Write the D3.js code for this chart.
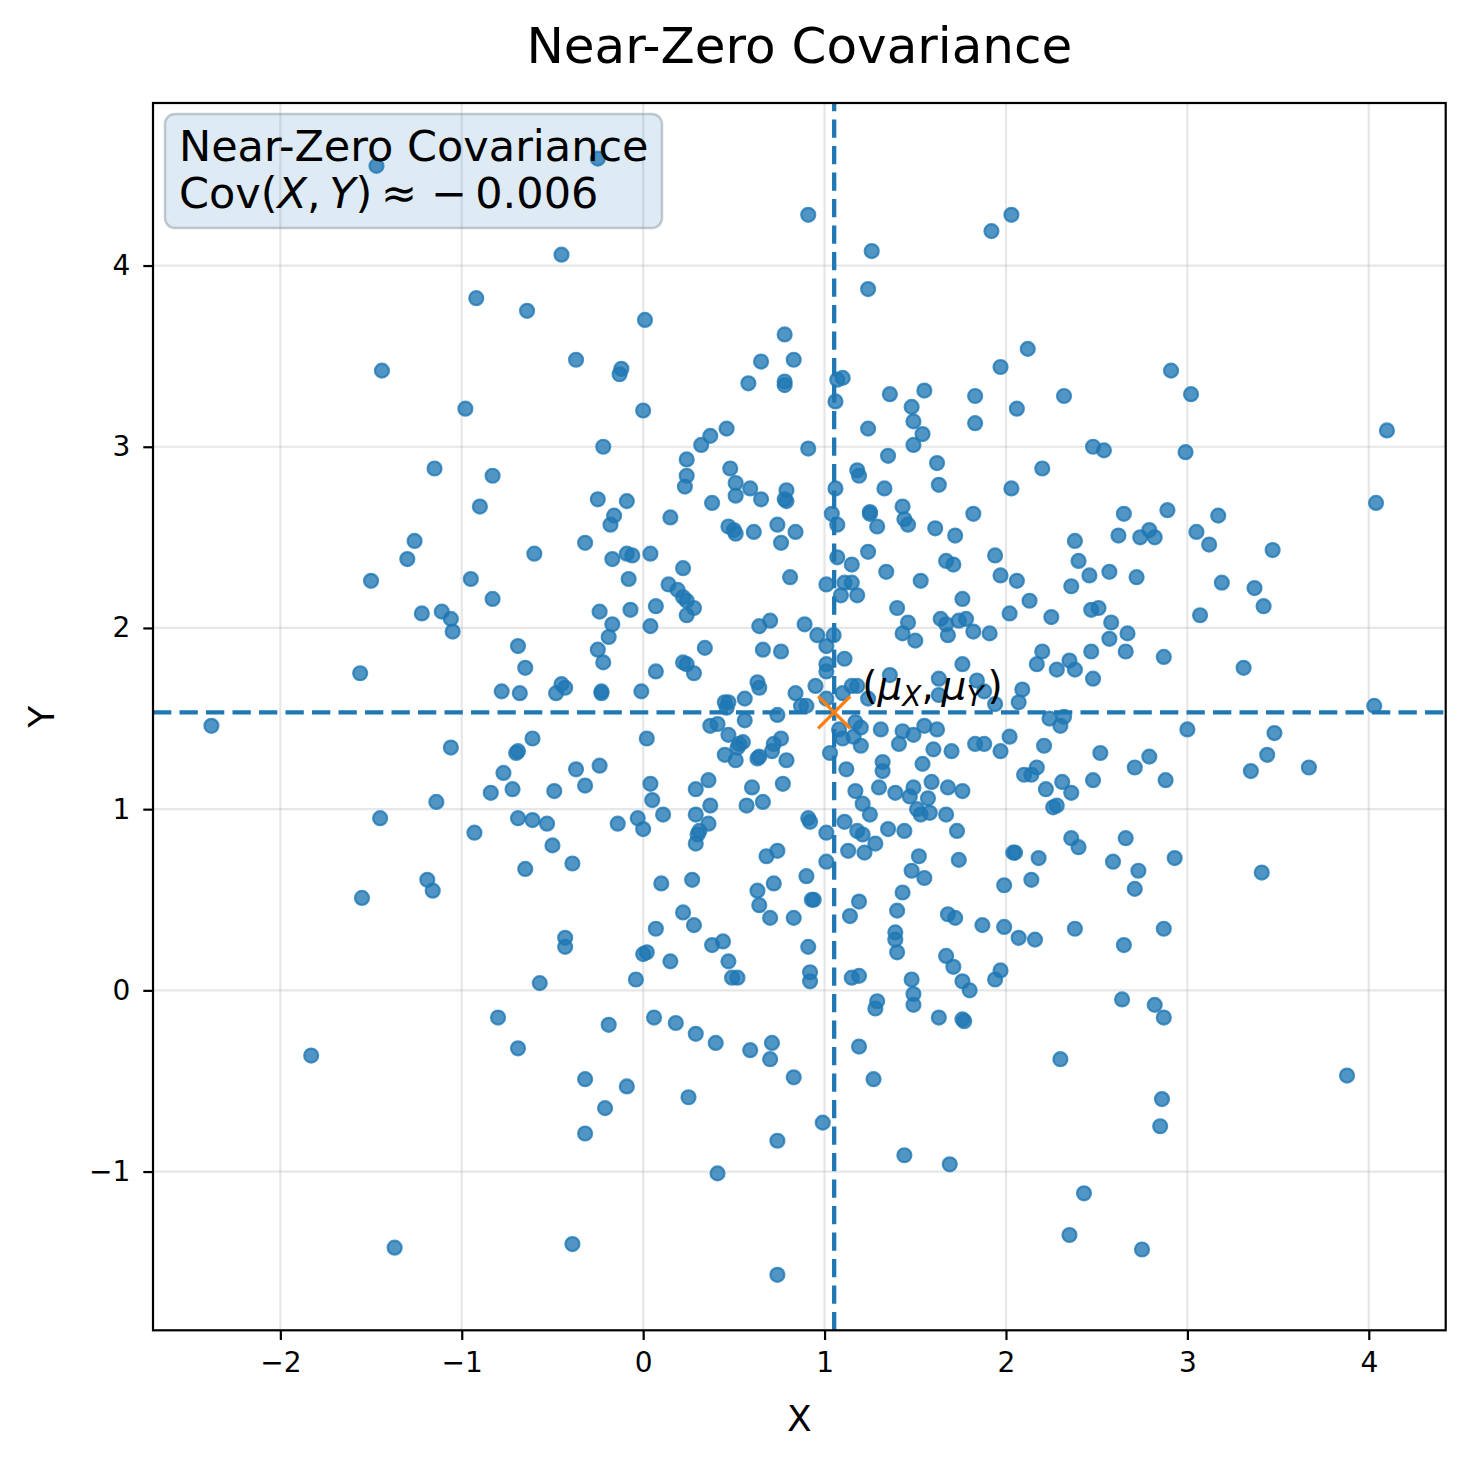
<!DOCTYPE html>
<html>
<head>
<meta charset="utf-8">
<script src="https://cdn.jsdelivr.net/npm/d3@7"></script>
<style>
  body { margin: 0; background: #fff; }
  text { font-family: "DejaVu Sans", sans-serif; }
</style>
</head>
<body>
<div id="chart"></div>
<script>
// sample points (X, Y)
var points = [
  [-1.47,4.55],[-0.45,4.06],[-0.92,3.82],[-0.64,3.75],[-0.37,3.48],[-1.44,3.42],[-0.98,3.21],[-1.15,2.88],[-0.83,2.84],[-0.90,2.67],
  [-0.25,4.59],[0.91,4.28],[2.03,4.28],[1.92,4.19],[1.26,4.08],[1.24,3.87],[0.01,3.70],[0.78,3.62],[0.65,3.47],[0.83,3.48],
  [-0.12,3.43],[-0.13,3.40],[0.58,3.35],[0.78,3.36],[0.78,3.34],[1.07,3.37],[1.10,3.38],[1.06,3.25],[0.00,3.20],[1.36,3.29],
  [1.55,3.31],[1.48,3.22],[1.49,3.14],[1.54,3.07],[1.49,3.01],[1.83,3.28],[1.83,3.13],[1.97,3.44],[2.06,3.21],[2.03,2.77],
  [1.24,3.10],[0.91,2.99],[1.35,2.95],[1.62,2.91],[1.63,2.79],[1.18,2.87],[1.19,2.84],[1.33,2.77],[1.43,2.67],[1.25,2.64],
  [1.25,2.63],[1.82,2.63],[1.06,2.77],[1.04,2.63],[-0.22,3.00],[0.32,3.01],[0.37,3.06],[0.46,3.10],[0.24,2.93],[0.24,2.84],
  [0.23,2.78],[0.48,2.88],[0.51,2.80],[0.51,2.73],[0.59,2.77],[0.65,2.71],[0.79,2.76],[0.78,2.71],[0.79,2.70],[0.38,2.69],
  [-0.25,2.71],[-0.09,2.70],[-0.16,2.62],[0.15,2.61],[2.12,3.54],[2.91,3.42],[3.02,3.29],[2.32,3.28],[4.10,3.09],[2.48,3.00],
  [2.54,2.98],[2.99,2.97],[2.20,2.88],[4.04,2.69],[2.65,2.63],[2.89,2.65],[3.17,2.62],
  [-1.26,2.48],[-1.30,2.38],[-1.50,2.26],[-0.60,2.41],[-0.32,2.47],[-0.95,2.27],[-0.83,2.16],[-1.22,2.08],[-1.11,2.09],[-1.06,2.05],
  [-1.05,1.98],[-0.69,1.90],[-0.65,1.78],[-1.56,1.75],[-0.78,1.65],[-0.68,1.64],[-0.48,1.64],[-0.45,1.69],[-0.43,1.67],[-2.38,1.46],
  [-1.06,1.34],[-0.61,1.39],[-0.70,1.31],[-0.69,1.32],[-0.77,1.20],[-0.37,1.22],[-0.84,1.09],[-0.72,1.11],[-0.49,1.10],[-0.32,1.13],
  [-1.14,1.04],[-1.45,0.95],[-0.69,0.95],[-0.61,0.94],[-0.53,0.92],[-0.93,0.87],[-0.50,0.80],[-0.39,0.70],[-0.65,0.67],[-1.19,0.61],
  [-1.16,0.55],[-1.55,0.51],
  [-0.18,2.57],[0.47,2.56],[0.50,2.54],[0.51,2.52],[0.61,2.53],[0.74,2.57],[0.84,2.53],[0.76,2.47],[1.07,2.57],[1.29,2.56],
  [1.44,2.60],[1.46,2.57],[1.61,2.55],[1.72,2.51],[-0.17,2.38],[-0.09,2.41],[-0.06,2.40],[0.04,2.41],[0.22,2.33],[-0.08,2.27],
  [0.81,2.28],[1.01,2.24],[1.07,2.39],[1.15,2.35],[1.24,2.42],[1.11,2.25],[1.15,2.25],[1.09,2.18],[1.18,2.18],[1.34,2.31],
  [1.53,2.26],[1.67,2.37],[1.71,2.35],[1.94,2.40],[1.97,2.29],[2.06,2.26],[1.76,2.16],[0.14,2.24],[0.19,2.21],[0.22,2.17],
  [0.24,2.15],[0.28,2.11],[0.24,2.07],[0.07,2.12],[-0.07,2.10],[-0.24,2.09],[-0.17,2.02],[-0.19,1.95],[0.04,2.01],[-0.25,1.88],
  [-0.22,1.81],[1.40,2.11],[1.46,2.03],[1.43,1.97],[1.50,1.93],[1.64,2.05],[1.67,2.02],[1.68,1.96],[1.74,2.04],[1.78,2.05],
  [1.82,1.98],[1.91,1.97],[2.02,2.08],[0.64,2.01],[0.70,2.04],[0.89,2.02],[0.96,1.96],[1.05,1.96],[0.34,1.89],[0.66,1.88],
  [0.76,1.87],[1.01,1.90],[1.11,1.83],[1.01,1.80],[1.01,1.76],[0.22,1.81],[0.24,1.80],[0.28,1.75],[0.07,1.76],[1.76,1.80],
  [1.63,1.72],[1.63,1.63],[1.36,1.74],[1.84,1.71],[1.88,1.65],[1.94,1.58],[2.09,1.66],[2.07,1.59],[1.24,1.61],[-0.23,1.65],
  [-0.23,1.64],[-0.01,1.65],[0.63,1.70],[0.64,1.67],[0.84,1.64],[0.95,1.68],[1.01,1.61],[1.10,1.64],[1.15,1.68],[1.18,1.68],
  [0.45,1.59],[0.47,1.59],[0.46,1.56],[0.56,1.61],[0.87,1.57],[0.90,1.57],[0.74,1.52],[0.56,1.49],[0.37,1.46],[0.41,1.47],
  [0.47,1.41],[0.02,1.39],[0.76,1.39],[0.72,1.36],[0.53,1.36],[0.55,1.37],[0.52,1.34],[0.45,1.30],[0.51,1.27],[0.63,1.28],
  [0.64,1.29],[0.71,1.32],[0.79,1.27],[1.08,1.44],[1.10,1.39],[1.17,1.48],[1.20,1.45],[1.16,1.40],[1.20,1.35],[1.03,1.31],
  [1.31,1.44],[1.43,1.43],[1.49,1.41],[1.55,1.46],[1.62,1.44],[1.41,1.36],[1.60,1.33],[1.70,1.32],[1.83,1.36],[1.88,1.36],
  [1.97,1.32],[2.02,1.40],[1.32,1.26],[1.32,1.21],[1.54,1.25],[1.12,1.22],[-0.24,1.24],[0.04,1.14],[0.05,1.05],[0.36,1.16],
  [0.29,1.11],[0.60,1.12],[0.77,1.14],[0.57,1.02],[0.66,1.04],[0.37,1.02],[0.29,0.97],[0.36,0.92],[0.31,0.88],[0.30,0.86],
  [0.29,0.81],[0.11,0.97],[-0.03,0.95],[0.00,0.89],[-0.14,0.92],[0.91,0.95],[0.92,0.93],[1.17,1.10],[1.21,1.03],[1.25,0.97],
  [1.30,1.12],[1.39,1.09],[1.47,1.07],[1.49,1.12],[1.59,1.15],[1.68,1.12],[1.76,1.10],[1.57,1.06],[1.51,1.00],[1.53,0.97],
  [1.58,0.98],[1.67,0.97],[1.73,0.88],[1.11,0.93],[1.18,0.88],[1.21,0.86],[1.35,0.89],[1.44,0.88],[1.28,0.81],[1.22,0.76],
  [1.13,0.77],[1.01,0.87],[1.01,0.71],[0.68,0.74],[0.74,0.77],[0.90,0.63],[0.72,0.59],[0.63,0.55],[0.64,0.47],[0.93,0.50],
  [0.94,0.50],[1.19,0.49],[0.70,0.40],[0.83,0.40],[1.14,0.41],[1.43,0.54],[1.52,0.74],[1.48,0.66],[1.55,0.62],[1.74,0.72],
  [2.04,0.76],[2.05,0.76],[1.99,0.58],[1.40,0.44],[1.68,0.42],[1.72,0.40],[1.87,0.36],[1.99,0.35],[0.27,0.61],[0.10,0.59],
  [0.22,0.43],[0.28,0.36],[0.07,0.34],
  [2.38,2.48],[2.62,2.51],[2.74,2.50],[2.79,2.54],[2.82,2.50],[3.05,2.53],[3.12,2.46],[3.47,2.43],[2.40,2.37],[2.46,2.29],
  [2.57,2.31],[2.72,2.28],[2.36,2.23],[3.19,2.25],[3.37,2.22],[3.42,2.12],[2.13,2.15],[2.25,2.06],[2.47,2.10],[2.51,2.11],
  [3.07,2.07],[2.58,2.03],[2.67,1.97],[2.57,1.94],[2.66,1.87],[2.47,1.87],[2.87,1.84],[3.31,1.78],[2.20,1.87],[2.17,1.80],
  [2.28,1.77],[2.35,1.82],[2.38,1.77],[2.48,1.72],[4.03,1.57],[2.24,1.50],[2.32,1.51],[2.30,1.46],[3.00,1.44],[3.48,1.42],
  [2.21,1.35],[2.52,1.31],[2.79,1.29],[3.44,1.30],[2.17,1.23],[2.10,1.19],[2.14,1.19],[2.71,1.23],[3.35,1.21],[3.67,1.23],
  [2.48,1.16],[2.88,1.16],[2.31,1.15],[2.22,1.11],[2.36,1.09],[2.26,1.01],[2.28,1.02],[2.36,0.84],[2.40,0.79],[2.66,0.84],
  [2.18,0.73],[2.59,0.71],[2.73,0.66],[2.93,0.73],[3.41,0.65],[2.14,0.61],[2.71,0.56],[2.38,0.34],[2.87,0.34],
  [-0.43,0.29],[-0.43,0.24],[-0.57,0.04],[-0.80,-0.15],[-0.69,-0.32],[-1.83,-0.36],[-0.32,-0.49],[-0.32,-0.79],[-1.37,-1.42],[-0.39,-1.40],
  [1.39,0.32],[1.39,0.28],[1.40,0.21],[2.07,0.29],[2.16,0.28],[0.00,0.20],[0.02,0.21],[0.15,0.16],[-0.04,0.06],[0.38,0.25],
  [0.44,0.27],[0.47,0.16],[0.49,0.07],[0.52,0.07],[0.91,0.24],[0.92,0.10],[0.92,0.05],[1.15,0.07],[1.19,0.08],[1.48,0.06],
  [1.49,-0.02],[1.49,-0.08],[1.29,-0.06],[1.28,-0.10],[1.67,0.19],[1.71,0.13],[1.76,0.05],[1.80,0.00],[1.97,0.11],[1.94,0.06],
  [1.63,-0.15],[1.76,-0.16],[1.77,-0.17],[1.19,-0.31],[1.27,-0.49],[0.06,-0.15],[0.18,-0.18],[-0.19,-0.19],[0.29,-0.24],[0.40,-0.29],
  [0.59,-0.33],[0.71,-0.29],[0.70,-0.38],[0.83,-0.48],[-0.09,-0.53],[0.25,-0.59],[-0.21,-0.65],[0.99,-0.73],[0.74,-0.83],[1.44,-0.91],
  [1.69,-0.96],[0.41,-1.01],[0.74,-1.57],
  [2.65,0.25],[2.64,-0.05],[2.82,-0.08],[2.87,-0.15],[2.30,-0.38],[3.88,-0.47],[2.86,-0.60],[2.85,-0.75],[2.43,-1.12],[2.35,-1.35],
  [2.75,-1.43]
];

var meanX = 1.053;
var meanY = 1.534;
var covText = "−0.006";
var chartTitle = "Near-Zero Covariance";
var xTicks = [-2, -1, 0, 1, 2, 3, 4];
var yTicks = [-1, 0, 1, 2, 3, 4];
var xDomain = [-2.702, 4.424];
var yDomain = [-1.876, 4.897];

var W = 1469, H = 1466;
var box = {left: 153, top: 103, right: 1445.7, bottom: 1330.3};
var blue = "#1f77b4", orange = "#ff7f0e";

var svg = d3.select("#chart").append("svg")
    .attr("width", W)
    .attr("height", H);

var x = d3.scaleLinear().domain(xDomain).range([box.left, box.right]);
var y = d3.scaleLinear().domain(yDomain).range([box.bottom, box.top]);

var minus = function(d) { return String(d).replace("-", "−"); };

// grid
var grid = svg.append("g").attr("class", "grid");
grid.selectAll("line.gx").data(xTicks).join("line")
    .attr("class", "gx")
    .attr("x1", d => x(d)).attr("x2", d => x(d))
    .attr("y1", box.top).attr("y2", box.bottom);
grid.selectAll("line.gy").data(yTicks).join("line")
    .attr("class", "gy")
    .attr("x1", box.left).attr("x2", box.right)
    .attr("y1", d => y(d)).attr("y2", d => y(d));
grid.selectAll("line")
    .attr("stroke", "#b0b0b0")
    .attr("stroke-opacity", 0.3)
    .attr("stroke-width", 2.2);

// axes
var xAxis = svg.append("g")
    .attr("transform", "translate(0," + box.bottom + ")")
    .call(d3.axisBottom(x).tickValues(xTicks).tickSize(9.7).tickPadding(12).tickFormat(minus));
var yAxis = svg.append("g")
    .attr("transform", "translate(" + box.left + ",0)")
    .call(d3.axisLeft(y).tickValues(yTicks).tickSize(9.7).tickPadding(13).tickFormat(minus));
[xAxis, yAxis].forEach(function(a) {
    a.select(".domain").remove();
    a.selectAll(".tick line").attr("stroke", "#000").attr("stroke-width", 2.2);
    a.selectAll(".tick text")
        .attr("fill", "#000")
        .style("font-family", "'DejaVu Sans', sans-serif")
        .style("font-size", "28px");
});

// points
svg.append("g").attr("class", "points")
  .selectAll("circle").data(points).join("circle")
    .attr("cx", d => x(d[0]))
    .attr("cy", d => y(d[1]))
    .attr("r", 7)
    .attr("fill", blue)
    .attr("fill-opacity", 0.78)
    .attr("stroke", blue)
    .attr("stroke-opacity", 0.78)
    .attr("stroke-width", 2.2);

// mean lines
svg.append("line")
    .attr("x1", x(meanX)).attr("x2", x(meanX))
    .attr("y1", box.bottom).attr("y2", box.top)
    .attr("stroke", blue).attr("stroke-width", 4.3)
    .attr("stroke-dasharray", "18.3,8.2");
svg.append("line")
    .attr("x1", box.left).attr("x2", box.right)
    .attr("y1", y(meanY)).attr("y2", y(meanY))
    .attr("stroke", blue).attr("stroke-width", 4.3)
    .attr("stroke-dasharray", "18.3,8.2");

// mean marker
var mx = x(meanX), my = y(meanY), s = 16;
svg.append("path")
    .attr("d", "M" + (mx - s) + "," + (my - s) + "L" + (mx + s) + "," + (my + s) +
               "M" + (mx - s) + "," + (my + s) + "L" + (mx + s) + "," + (my - s))
    .attr("stroke", orange).attr("stroke-width", 3.4).attr("fill", "none");

// annotation (mu_X, mu_Y)
var ann = svg.append("text")
    .attr("x", mx + 28).attr("y", my - 13)
    .style("font-size", "39px");
ann.append("tspan").text("(");
ann.append("tspan").style("font-style", "italic").text("μ");
ann.append("tspan").style("font-style", "italic").style("font-size", "28px").attr("dy", 7).text("X");
ann.append("tspan").attr("dy", -7).text(",\u2009");
ann.append("tspan").style("font-style", "italic").text("μ");
ann.append("tspan").style("font-style", "italic").style("font-size", "28px").attr("dy", 7).text("Y");
ann.append("tspan").attr("dy", -7).text("\u200a)");

// frame
svg.append("rect")
    .attr("x", box.left).attr("y", box.top)
    .attr("width", box.right - box.left).attr("height", box.bottom - box.top)
    .attr("fill", "none").attr("stroke", "#000").attr("stroke-width", 2.2);

// info box
svg.append("rect")
    .attr("x", 165).attr("y", 114).attr("width", 497).attr("height", 114)
    .attr("rx", 10)
    .attr("fill", blue).attr("fill-opacity", 0.15)
    .attr("stroke", "#8c9aa4").attr("stroke-opacity", 0.5).attr("stroke-width", 2.5);
svg.append("text")
    .attr("x", 179).attr("y", 161)
    .style("font-size", "43px")
    .text(chartTitle);
var cov = svg.append("text")
    .attr("x", 179).attr("y", 208)
    .style("font-size", "43px");
cov.append("tspan").text("Cov(");
cov.append("tspan").style("font-style", "italic").text("X");
cov.append("tspan").text(",\u2009");
cov.append("tspan").style("font-style", "italic").text("Y");
cov.append("tspan").text(")\u2009≈ " + covText.replace("−", "−\u2009"));

// title and axis labels
svg.append("text")
    .attr("x", (box.left + box.right) / 2).attr("y", 63)
    .attr("text-anchor", "middle")
    .style("font-size", "50px")
    .text(chartTitle);
svg.append("text")
    .attr("x", (box.left + box.right) / 2).attr("y", 1431)
    .attr("text-anchor", "middle")
    .style("font-size", "36px")
    .text("X");
svg.append("text")
    .attr("transform", "translate(54," + ((box.top + box.bottom) / 2) + ") rotate(-90)")
    .attr("text-anchor", "middle")
    .style("font-size", "36px")
    .text("Y");
</script>
</body>
</html>
